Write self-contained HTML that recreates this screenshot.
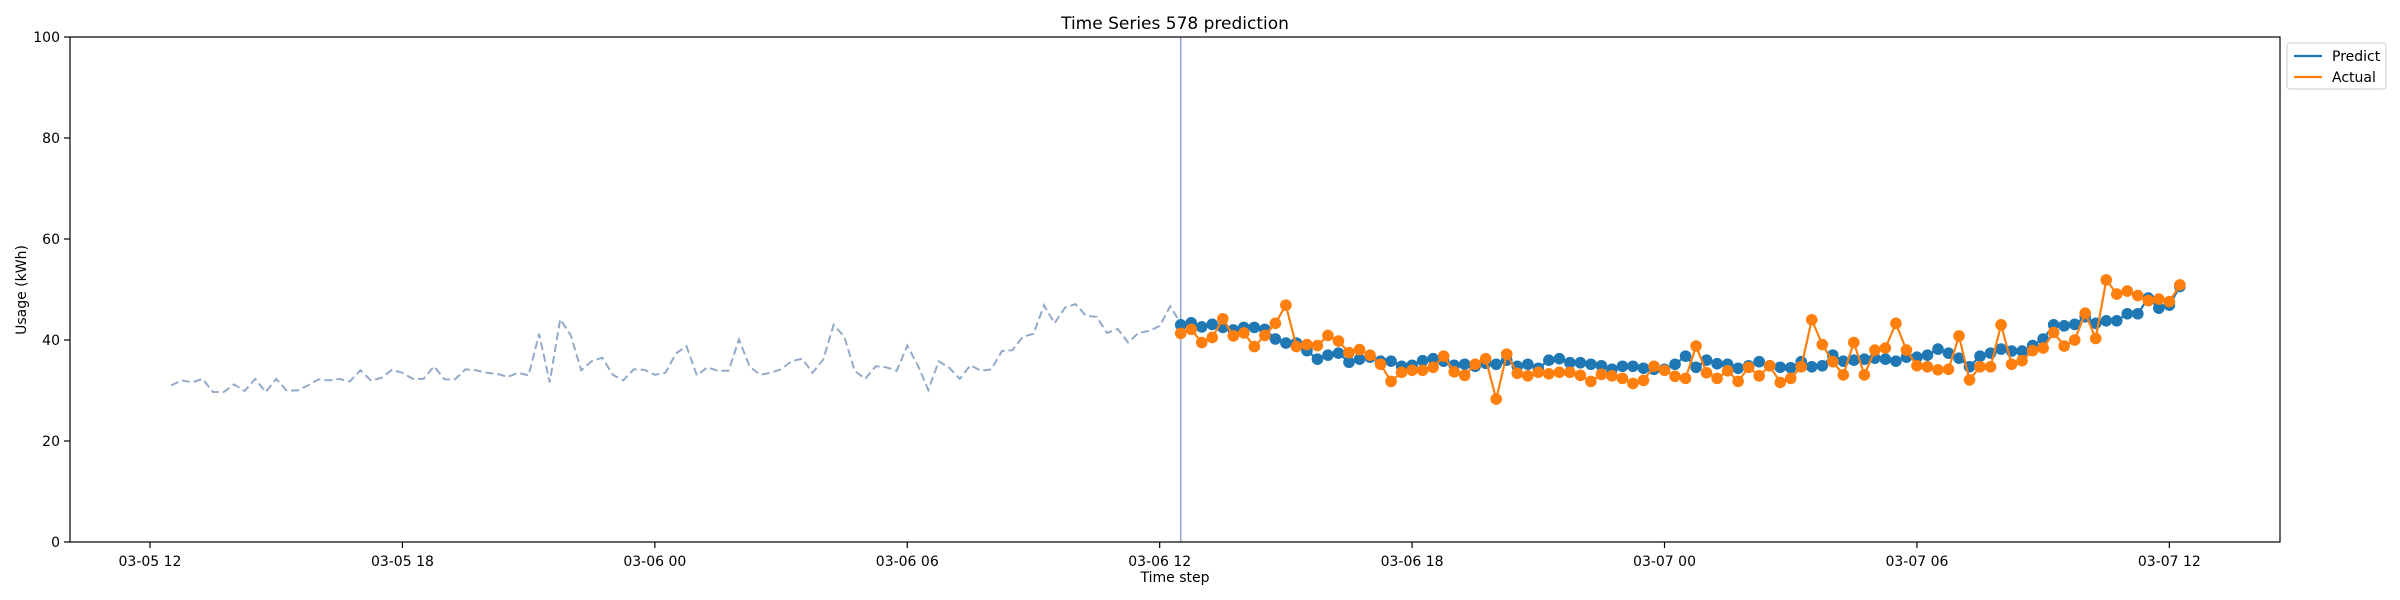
<!DOCTYPE html>
<html><head><meta charset="utf-8"><style>
body{margin:0;background:#fff}
svg{display:block;font-family:"DejaVu Sans","Liberation Sans",sans-serif}
</style></head><body>
<svg width="2400" height="600" viewBox="0 0 2400 600" xmlns="http://www.w3.org/2000/svg" id="chart">
<rect x="0" y="0" width="2400" height="600" fill="#fff"/>
<text x="1175" y="29" font-size="17" text-anchor="middle">Time Series 578 prediction</text>
<text x="1175" y="582" font-size="14" text-anchor="middle">Time step</text>
<text x="26" y="290" font-size="14" text-anchor="middle" transform="rotate(-90 26 290)">Usage (kWh)</text>
<g id="marks"></g>
<rect x="70" y="37" width="2210" height="505" fill="none" stroke="#000" stroke-width="1.2"/>
<g>
<rect x="2287" y="43" width="99" height="46" rx="3" fill="#fff" stroke="#ccc"/>
<line x1="2294" y1="56" x2="2322" y2="56" stroke="#1f77b4" stroke-width="2.2"/>
<text x="2332" y="61" font-size="14">Predict</text>
<line x1="2294" y1="77" x2="2322" y2="77" stroke="#ff7f0e" stroke-width="2.2"/>
<text x="2332" y="82" font-size="14">Actual</text>
</g>
</svg>
<script>
const history=[31.0,32,31.6,32.3,29.7,29.7,31.2,29.9,32.3,29.7,32.3,30,30,31,32.2,32,32.3,31.8,34,32,32.5,34.1,33.5,32.3,32.3,34.8,32.2,32.2,34.2,34,33.5,33.3,32.7,33.5,33,41.2,31.6,44.1,41,34,35.8,36.5,33.1,32,34.2,34.1,33.1,33.5,37.3,38.8,33,34.6,33.9,33.9,40.1,34.8,33.1,33.5,34.2,35.8,36.3,33.5,36.1,43,40.7,33.9,32.3,34.8,34.6,33.9,38.9,35,30.1,35.8,34.5,32.3,35,33.9,34.2,37.8,38,40.7,41.2,46.9,43.3,46.4,47.1,44.8,44.6,41.4,42.2,39.5,41.4,41.8,42.8,46.7,43.3];
const predict=[43.0,43.4,42.6,43.1,42.5,42.0,42.5,42.5,42.1,40.2,39.4,39.4,37.9,36.2,37.0,37.4,35.6,36.2,36.6,35.8,35.8,34.8,35.0,35.9,36.3,35.8,35.0,35.2,34.8,35.4,35.2,36.0,34.8,35.2,34.4,36.0,36.3,35.5,35.5,35.2,34.9,34.2,34.8,34.8,34.4,34.2,34.2,35.2,36.8,34.6,
36.0,35.3,35.2,34.4,34.9,35.7,34.9,34.6,34.5,35.7,34.7,34.9,37.0,35.8,36.0,36.2,36.4,36.2,35.8,36.6,36.6,37.0,38.2,37.4,36.4,34.7,36.8,37.4,38.2,37.8,37.8,38.9,40.2,43.0,42.8,43.1,44.6,43.3,43.8,43.8,45.2,45.2,48.3,46.3,46.9,50.6];
const actual=[41.3,42.1,39.5,40.5,44.2,40.8,41.4,38.7,40.9,43.3,46.9,38.7,39.1,38.9,40.9,39.8,37.5,38.1,37.0,35.2,31.8,33.6,34.0,34.0,34.6,36.8,33.7,33.0,35.2,36.3,28.3,37.2,33.4,32.9,33.6,33.3,33.6,33.6,33.0,31.8,33.2,32.9,32.4,31.4,32.0,34.8,34.0,32.8,32.4,38.8,
33.5,32.4,33.9,31.8,34.6,32.9,34.9,31.6,32.4,34.7,44.0,39.1,35.7,33.1,39.5,33.1,38.0,38.4,43.3,38.0,34.9,34.7,34.1,34.2,40.8,32.1,34.7,34.7,43.0,35.2,35.9,37.9,38.4,41.5,38.8,40.0,45.3,40.3,51.9,49.1,49.7,48.8,47.8,48.1,47.6,50.9];
const xTickHours=[12,18,24,30,36,42,48,54,60];
const xTickLabels=["03-05 12","03-05 18","03-06 00","03-06 06","03-06 12","03-06 18","03-07 00","03-07 06","03-07 12"];
const yTicks=[0,20,40,60,80,100];
const historyStart=12.5, predStart=36.5, stepH=0.25;

const NS="http://www.w3.org/2000/svg";
const g=document.getElementById('marks');
const xS=h=>150+(h-12)*42.07;
const yS=v=>542-v*5.05;
function mk(tag,attrs){const e=document.createElementNS(NS,tag);for(const k in attrs)e.setAttribute(k,attrs[k]);return e;}
xTickHours.forEach((h,i)=>{
  const t=mk('line',{x1:xS(h),x2:xS(h),y1:542,y2:548,stroke:'#000','stroke-width':1.2});
  
  
  g.appendChild(t);
  const l=mk('text',{x:xS(h),y:566,'font-size':14,'text-anchor':'middle'});
  
  
  l.textContent=xTickLabels[i];g.appendChild(l);
});
yTicks.forEach(v=>{
  const t=mk('line',{x1:64,x2:70,y1:yS(v),y2:yS(v),stroke:'#000','stroke-width':1.2});
  
  
  g.appendChild(t);
  const l=mk('text',{x:60,y:yS(v)+5,'font-size':14,'text-anchor':'end'});
  
  
  l.textContent=v;g.appendChild(l);
});
const vl=mk('line',{x1:xS(predStart),x2:xS(predStart),y1:37,y2:542,stroke:'#9aa8cf','stroke-width':1.6});


g.appendChild(vl);
const pts=(arr,s)=>arr.map((v,i)=>xS(s+i*stepH).toFixed(1)+','+yS(v).toFixed(1)).join(' ');
const hl=mk('polyline',{points:pts(history,historyStart),fill:'none',stroke:'#94abc8','stroke-width':2,'stroke-dasharray':'8,4'});


g.appendChild(hl);
function series(arr,color,name){
  const pl=mk('polyline',{points:pts(arr,predStart),fill:'none',stroke:color,'stroke-width':2.2});
  
  
  g.appendChild(pl);
  arr.forEach((v,i)=>{
    const c=mk('circle',{cx:xS(predStart+i*stepH),cy:yS(v),r:5.8,fill:color});
    
    
    g.appendChild(c);
  });
}
series(predict,'#1f77b4','predict');
series(actual,'#ff7f0e','actual');
</script>
</body></html>
